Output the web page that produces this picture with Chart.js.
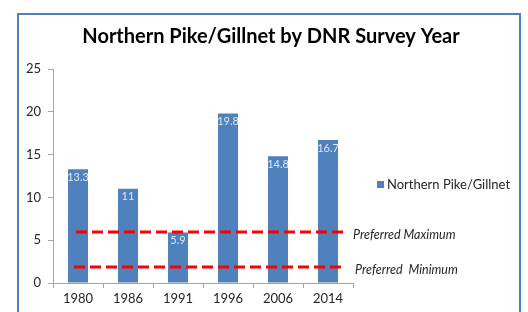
<!DOCTYPE html>
<html>
<head>
<meta charset="utf-8">
<script src="https://cdn.jsdelivr.net/npm/chart.js@4/dist/chart.umd.min.js"></script>
<style>
  html, body { margin: 0; padding: 0; background: #fff; }
  #wrap { position: relative; width: 528px; height: 312px; overflow: hidden; }
  #frame { position: absolute; left: 17px; top: 13px; width: 504px; height: 320px; border: 2px solid #4f81bd; box-sizing: border-box; }
  canvas { position: absolute; left: 0; top: 0; }
</style>
</head>
<body>
<div id="wrap">
  <div id="frame"></div>
  <canvas id="c" width="528" height="312"></canvas>
</div>
<script>
const categories = ['1980', '1986', '1991', '1996', '2006', '2014'];
const pikePerGillnet = [13.3, 11, 5.9, 19.8, 14.8, 16.7];
const seriesName = 'Northern Pike/Gillnet';
const yTicks = [0, 5, 10, 15, 20, 25];
const preferredMaximum = 5.9;
const preferredMinimum = 1.9;
const referenceLines = [
  { value: preferredMaximum, label: 'Preferred Maximum' },
  { value: preferredMinimum, label: 'Preferred  Minimum' }
];

const FONT = 'Lato, "Open Sans", sans-serif';
const BAR_COLOR = '#4f81bd';

const barLabels = {
  id: 'barLabels',
  afterDatasetsDraw(chart) {
    const ctx = chart.ctx;
    const meta = chart.getDatasetMeta(0);
    ctx.save();
    ctx.font = '11px ' + FONT;
    ctx.fillStyle = '#dfe7f2';
    ctx.textAlign = 'center';
    ctx.textBaseline = 'middle';
    meta.data.forEach((bar, i) => {
      ctx.fillText(String(pikePerGillnet[i]), bar.x, bar.y + 8);
    });
    ctx.restore();
  }
};

const refLines = {
  id: 'refLines',
  afterDatasetsDraw(chart) {
    const ctx = chart.ctx;
    const x = chart.scales.x, y = chart.scales.y;
    ctx.save();
    referenceLines.forEach((r, k) => {
      const py = Math.round(y.getPixelForValue(r.value));
      const x0 = x.getPixelForValue(0) - 2 - (k === 1 ? 2 : 0);
      const x1 = x.right - 7 - (k === 1 ? 3 : 0);
      ctx.strokeStyle = '#ff0000';
      ctx.lineWidth = 3;
      ctx.setLineDash([11, 5]);
      ctx.beginPath();
      ctx.moveTo(x0, py);
      ctx.lineTo(x1, py);
      ctx.stroke();
      ctx.setLineDash([]);
      ctx.font = 'italic 12.5px ' + FONT;
      ctx.fillStyle = '#262626';
      ctx.textAlign = 'left';
      ctx.textBaseline = 'middle';
      ctx.fillText(r.label, x.right + (k === 1 ? 2 : 0), py + 3);
    });
    ctx.restore();
  }
};

const customLegend = {
  id: 'customLegend',
  afterDraw(chart) {
    const ctx = chart.ctx;
    const area = chart.chartArea;
    const cy = (area.top + area.bottom) / 2 + 9;
    const lx = area.right + 24;
    ctx.save();
    ctx.fillStyle = BAR_COLOR;
    ctx.fillRect(lx, cy - 4, 7, 7);
    ctx.font = '13px ' + FONT;
    ctx.fillStyle = '#262626';
    ctx.textAlign = 'left';
    ctx.textBaseline = 'middle';
    ctx.fillText(seriesName, lx + 10, cy);
    ctx.restore();
  }
};

new Chart(document.getElementById('c'), {
  type: 'bar',
  data: {
    labels: categories,
    datasets: [{
      label: seriesName,
      data: pikePerGillnet,
      backgroundColor: BAR_COLOR,
      borderWidth: 0,
      categoryPercentage: 1,
      barPercentage: 0.4
    }]
  },
  options: {
    responsive: false,
    animation: false,
    devicePixelRatio: 1,
    layout: { padding: { left: 22, right: 8, top: 14, bottom: 5 } },
    plugins: {
      title: {
        display: true,
        text: 'Northern Pike/Gillnet by DNR Survey Year',
        color: '#000',
        font: { family: FONT, size: 20, weight: 'bold' },
        padding: { top: 11, bottom: 20 }
      },
      legend: { display: false },
      tooltip: { enabled: false }
    },
    scales: {
      x: {
        offset: true,
        grid: { display: true, offset: true, drawOnChartArea: false, drawTicks: true, tickLength: 5, color: '#a6a6a6' },
        border: { display: true, color: '#a6a6a6' },
        ticks: { color: '#262626', font: { family: FONT, size: 13 }, padding: 3 },
        afterFit(scale) { scale.height = 24; }
      },
      y: {
        min: 0,
        max: 25,
        afterBuildTicks(scale) { scale.ticks = yTicks.map(v => ({ value: v })); },
        grid: { display: true, drawOnChartArea: false, drawTicks: true, tickLength: 5, color: '#a6a6a6' },
        border: { display: true, color: '#a6a6a6' },
        ticks: { color: '#262626', font: { family: FONT, size: 13 }, padding: 7 },
        afterFit(scale) { scale.width = 31; }
      },
      side: {
        type: 'linear',
        position: 'right',
        display: true,
        grid: { display: false },
        border: { display: false },
        ticks: { display: false },
        afterFit(scale) { scale.width = 167; }
      }
    }
  },
  plugins: [barLabels, refLines, customLegend]
});
</script>
</body>
</html>
